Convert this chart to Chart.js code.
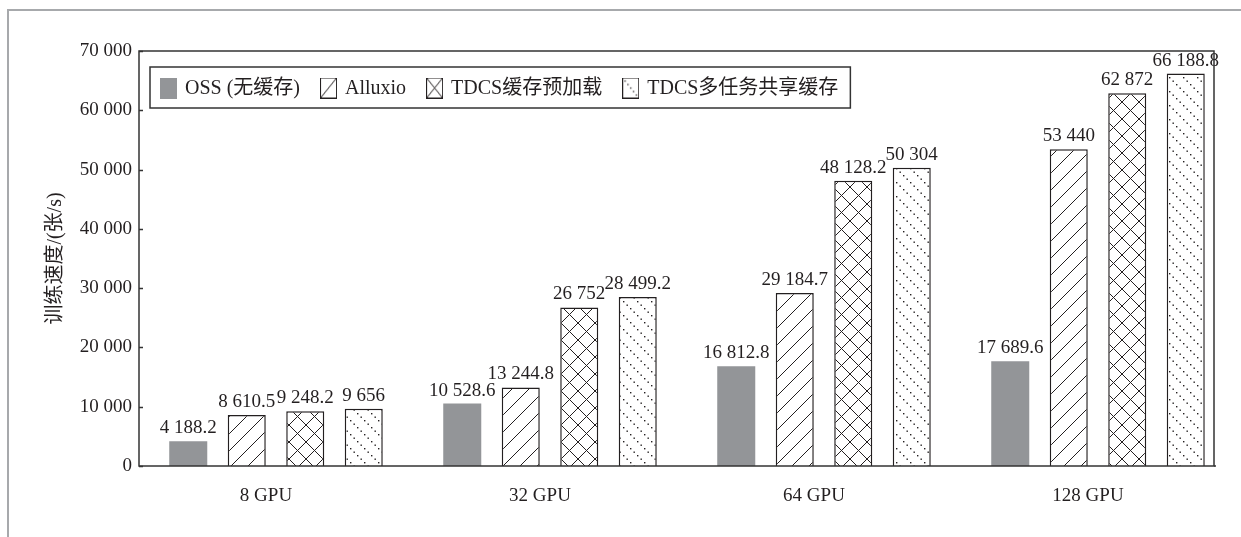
<!DOCTYPE html>
<html>
<head>
<meta charset="utf-8">
<script src="https://cdn.jsdelivr.net/npm/chart.js@4.4.1/dist/chart.umd.min.js"></script>
<style>
  html, body { margin: 0; padding: 0; background: #fff; }
  #wrap { width: 1241px; height: 537px; }
</style>
</head>
<body>
<div id="wrap"><canvas id="speedChart" width="1241" height="537"></canvas></div>
<script>
// данные с картинки
const categories = ["8 GPU", "32 GPU", "64 GPU", "128 GPU"];
const seriesNames = ["OSS (无缓存)", "Alluxio", "TDCS缓存预加载", "TDCS多任务共享缓存"];
const ossValues = [4188.2, 10528.6, 16812.8, 17689.6];
const alluxioValues = [8610.5, 13244.8, 29184.7, 53440];
const preloadValues = [9248.2, 26752, 48128.2, 62872];
const sharedValues = [9656, 28499.2, 50304, 66188.8];
const yMax = 70000;
const yStep = 10000;
const yTitle = "训练速度/(张/s)";

const INK = "#231f20";
const GRAY = "#939598";
const FONT = '"Liberation Serif", "Noto Sans CJK SC", serif';
const PLOT_RIGHT_INSET = 21; // рамка графика уже, чем ось категорий

// 8610.5 -> "8 610.5"
function fmt(v) {
  const parts = String(v).split(".");
  const int = parts[0].replace(/\B(?=(\d{3})+(?!\d))/g, " ");
  return parts.length > 1 ? int + "." + parts[1] : int;
}

function makeTile(size, draw) {
  const c = document.createElement("canvas");
  c.width = size;
  c.height = size;
  const g = c.getContext("2d");
  g.fillStyle = "#fff";
  g.fillRect(0, 0, size, size);
  g.strokeStyle = INK;
  g.fillStyle = INK;
  g.lineWidth = 1;
  draw(g, size);
  return c;
}

const slashTile = makeTile(17, (g, s) => {
  g.beginPath();
  for (let k = -1; k <= 1; k++) {
    g.moveTo(k * s, s);
    g.lineTo(k * s + s, 0);
  }
  g.stroke();
});

const crossTile = makeTile(17, (g, s) => {
  g.beginPath();
  for (let k = -1; k <= 1; k++) {
    g.moveTo(k * s, s);
    g.lineTo(k * s + s, 0);
    g.moveTo(k * s, 0);
    g.lineTo(k * s + s, s);
  }
  g.stroke();
});

const dotTile = makeTile(14, (g, s) => {
  for (let t = 0; t < s; t += 3.5) g.fillRect(t, t, 1.4, 1.4);
});

function makeIcon(kind) {
  const c = document.createElement("canvas");
  c.width = 17;
  c.height = 21;
  const g = c.getContext("2d");
  if (kind === "solid") {
    g.fillStyle = GRAY;
    g.fillRect(0, 0, 17, 21);
    return c;
  }
  g.fillStyle = "#fff";
  g.fillRect(0, 0, 17, 21);
  g.strokeStyle = INK;
  g.fillStyle = INK;
  g.lineWidth = 1;
  if (kind === "slash" || kind === "cross") {
    g.beginPath();
    g.moveTo(0.5, 20.5);
    g.lineTo(16.5, 0.5);
    g.stroke();
  }
  if (kind === "cross") {
    g.beginPath();
    g.moveTo(0.5, 0.5);
    g.lineTo(16.5, 20.5);
    g.stroke();
  }
  if (kind === "dots") {
    for (let i = 1; i < 6; i++) g.fillRect(i * 17 / 6 - 0.6, i * 21 / 6 - 0.6, 1.3, 1.3);
  }
  g.strokeRect(0.5, 0.5, 16, 20);
  return c;
}

const legendIcons = [makeIcon("solid"), makeIcon("slash"), makeIcon("cross"), makeIcon("dots")];

const canvas = document.getElementById("speedChart");
const ctx = canvas.getContext("2d");
const slashFill = ctx.createPattern(slashTile, "repeat");
const crossFill = ctx.createPattern(crossTile, "repeat");
const dotFill = ctx.createPattern(dotTile, "repeat");

const decor = {
  id: "decor",
  beforeDraw(chart) {
    const c = chart.ctx;
    c.save();
    c.fillStyle = "#fff";
    c.fillRect(0, 0, chart.width, chart.height);
    // серая рамка страницы
    c.strokeStyle = "#a7a9ac";
    c.lineWidth = 2;
    c.beginPath();
    c.moveTo(chart.width, 10);
    c.lineTo(8, 10);
    c.lineTo(8, chart.height);
    c.stroke();
    c.restore();
  },
  afterDatasetsDraw(chart) {
    const c = chart.ctx;
    const area = chart.chartArea;
    const right = area.right - PLOT_RIGHT_INSET;
    c.save();

    // подписи значений над столбиками
    c.fillStyle = INK;
    c.font = "19px " + FONT;
    c.textAlign = "center";
    c.textBaseline = "alphabetic";
    chart.data.datasets.forEach((ds, i) => {
      chart.getDatasetMeta(i).data.forEach((bar, j) => {
        c.fillText(fmt(ds.data[j]), bar.x, bar.y - 8);
      });
    });

    // рамка области графика и засечки
    c.strokeStyle = "#333";
    c.lineWidth = 1.5;
    c.strokeRect(area.left, area.top, right - area.left, area.bottom - area.top);
    c.beginPath();
    c.moveTo(right, area.bottom);
    c.lineTo(right + 2, area.bottom);
    const yScale = chart.scales.y;
    yScale.ticks.forEach((t) => {
      const y = Math.round(yScale.getPixelForValue(t.value)) + 0.5;
      c.moveTo(area.left, y);
      c.lineTo(area.left + 4, y);
    });
    c.stroke();
    c.restore();
  },
  afterDraw(chart) {
    const c = chart.ctx;
    const area = chart.chartArea;
    c.save();
    c.font = "20px " + FONT;
    c.fillStyle = INK;
    c.textAlign = "left";
    c.textBaseline = "middle";
    let x = area.left + 21;
    const cy = area.top + 37;
    seriesNames.forEach((name, i) => {
      c.drawImage(legendIcons[i], x, cy - 10.5);
      c.fillText(name, x + 25, cy + 1);
      x += 25 + c.measureText(name).width + 20;
    });
    c.strokeStyle = "#333";
    c.lineWidth = 1.5;
    c.strokeRect(area.left + 11, area.top + 16, x - 8 - (area.left + 11), 41);
    c.restore();
  },
};

new Chart(canvas, {
  type: "bar",
  data: {
    labels: categories,
    datasets: [
      { label: seriesNames[0], data: ossValues, backgroundColor: GRAY, borderWidth: 0 },
      { label: seriesNames[1], data: alluxioValues, backgroundColor: slashFill, borderColor: INK, borderWidth: 1.5 },
      { label: seriesNames[2], data: preloadValues, backgroundColor: crossFill, borderColor: INK, borderWidth: 1.5 },
      { label: seriesNames[3], data: sharedValues, backgroundColor: dotFill, borderColor: INK, borderWidth: 1.5 },
    ],
  },
  options: {
    responsive: false,
    devicePixelRatio: 1,
    animation: false,
    categoryPercentage: 0.854,
    barPercentage: 0.65,
    layout: { padding: { top: 51, right: 6, bottom: 0, left: 0 } },
    plugins: {
      legend: { display: false },
      tooltip: { enabled: false },
    },
    scales: {
      x: {
        grid: { display: false },
        border: { display: false },
        ticks: { color: INK, font: { family: FONT, size: 19 }, padding: 11, labelOffset: -10 },
        afterFit: (scale) => { scale.height = 71; },
      },
      y: {
        min: 0,
        max: yMax,
        grid: { display: false, drawTicks: false },
        border: { display: false },
        ticks: { stepSize: yStep, color: INK, font: { family: FONT, size: 19 }, padding: 7, callback: (v) => fmt(v) },
        title: { display: true, text: yTitle, color: INK, font: { family: FONT, size: 20 }, padding: { top: 44, bottom: 0 } },
        afterFit: (scale) => { scale.width = 139; },
      },
    },
  },
  plugins: [decor],
});
</script>
</body>
</html>
